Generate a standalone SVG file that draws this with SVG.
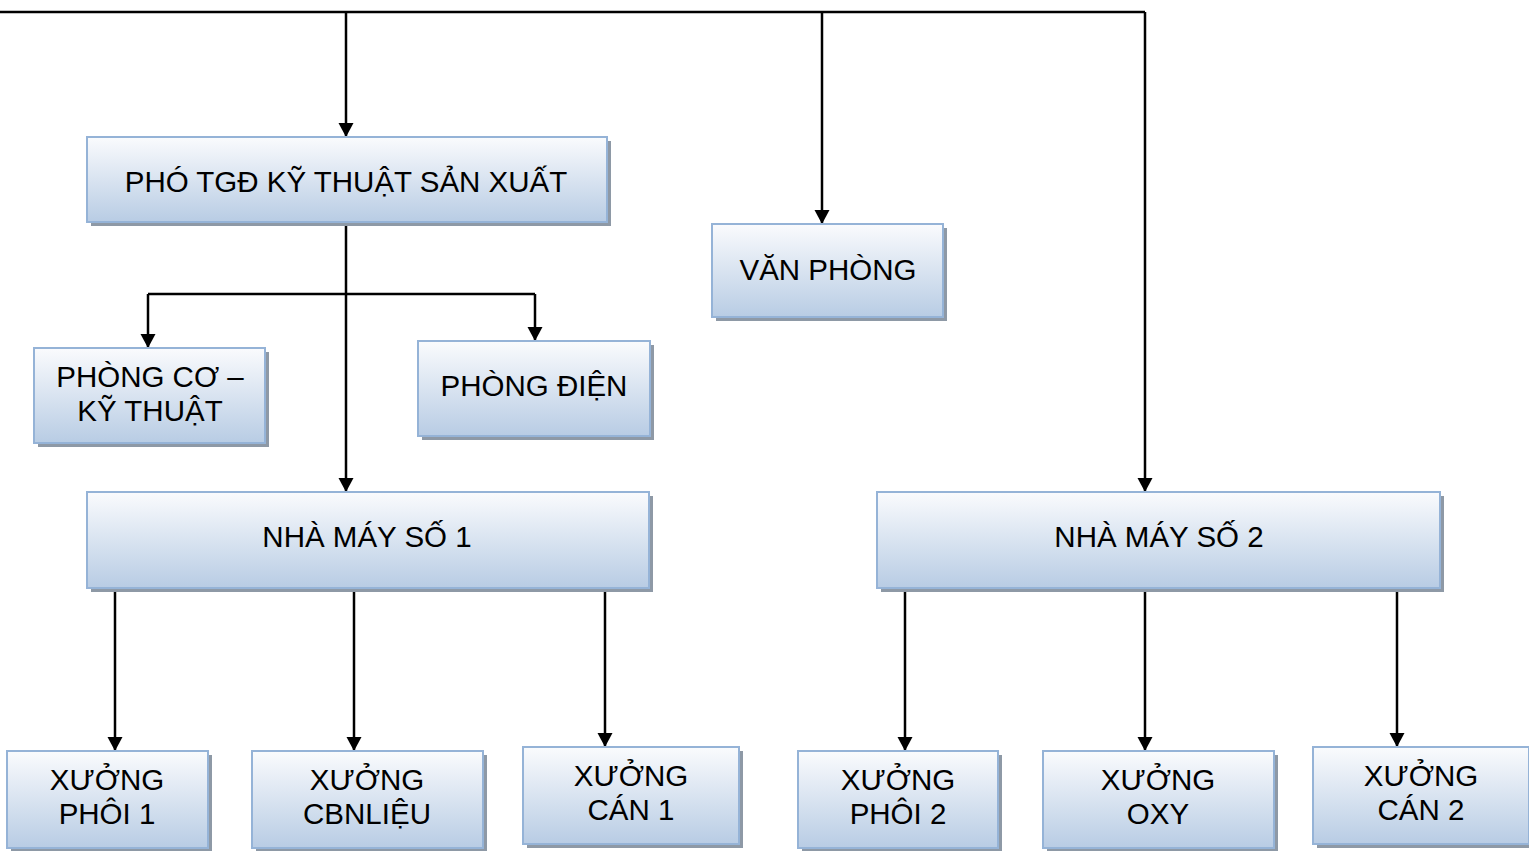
<svg xmlns="http://www.w3.org/2000/svg" width="1529" height="851" viewBox="0 0 1529 851">
<style>
.box{fill:url(#g);stroke:#95b3d7;stroke-width:2}
.sh{fill:#8e99a6}
.t{font-family:"Liberation Sans",Arial,sans-serif;font-size:29.5px;fill:#000;text-anchor:middle}
.c{fill:none;stroke:#000;stroke-width:2.5}
</style>
<defs>
<linearGradient id="g" x1="0" y1="0" x2="0" y2="1">
<stop offset="0" stop-color="#fafbfd"/>
<stop offset="1" stop-color="#b8cce4"/>
</linearGradient>
<marker id="a" markerUnits="userSpaceOnUse" markerWidth="15" markerHeight="16" refX="14" refY="8" orient="auto">
<path d="M0,0.5 L14,8 L0,15.5 z" fill="#000"/>
</marker>
</defs>
<rect width="1529" height="851" fill="#fff"/>
<g id="connectors">
<path class="c" d="M0,12 H1145"/>
<path class="c" d="M346,12 V137" marker-end="url(#a)"/>
<path class="c" d="M822,12 V224" marker-end="url(#a)"/>
<path class="c" d="M1145,12 V492" marker-end="url(#a)"/>
<path class="c" d="M346,224 V492" marker-end="url(#a)"/>
<path class="c" d="M148,294 H535"/>
<path class="c" d="M148,294 V348" marker-end="url(#a)"/>
<path class="c" d="M535,294 V341" marker-end="url(#a)"/>
<path class="c" d="M115,590 V751" marker-end="url(#a)"/>
<path class="c" d="M354,590 V751" marker-end="url(#a)"/>
<path class="c" d="M605,590 V747" marker-end="url(#a)"/>
<path class="c" d="M905,590 V751" marker-end="url(#a)"/>
<path class="c" d="M1145,590 V751" marker-end="url(#a)"/>
<path class="c" d="M1397,590 V747" marker-end="url(#a)"/>
</g>
<g id="pho-tgd">
<rect class="sh" x="91" y="141" width="520" height="85"/>
<rect class="box" x="87" y="137" width="520" height="85"/>
<text class="t" x="346" y="192">PHÓ TGĐ KỸ THUẬT SẢN XUẤT</text>
</g>
<g id="van-phong">
<rect class="sh" x="716" y="228" width="231" height="93"/>
<rect class="box" x="712" y="224" width="231" height="93"/>
<text class="t" x="828" y="280">VĂN PHÒNG</text>
</g>
<g id="phong-co">
<rect class="sh" x="38" y="352" width="231" height="95"/>
<rect class="box" x="34" y="348" width="231" height="95"/>
<text class="t" x="150" y="387">PHÒNG CƠ –</text>
<text class="t" x="150" y="421">KỸ THUẬT</text>
</g>
<g id="phong-dien">
<rect class="sh" x="422" y="345" width="232" height="95"/>
<rect class="box" x="418" y="341" width="232" height="95"/>
<text class="t" x="534" y="396">PHÒNG ĐIỆN</text>
</g>
<g id="nha-may-1">
<rect class="sh" x="91" y="496" width="562" height="96"/>
<rect class="box" x="87" y="492" width="562" height="96"/>
<text class="t" x="367" y="547">NHÀ MÁY SỐ 1</text>
</g>
<g id="nha-may-2">
<rect class="sh" x="881" y="496" width="563" height="96"/>
<rect class="box" x="877" y="492" width="563" height="96"/>
<text class="t" x="1159" y="547">NHÀ MÁY SỐ 2</text>
</g>
<g id="xuong-phoi-1">
<rect class="sh" x="11" y="755" width="201" height="97"/>
<rect class="box" x="7" y="751" width="201" height="97"/>
<text class="t" x="107" y="790">XƯỞNG</text>
<text class="t" x="107" y="824">PHÔI 1</text>
</g>
<g id="xuong-cbnlieu">
<rect class="sh" x="256" y="755" width="231" height="97"/>
<rect class="box" x="252" y="751" width="231" height="97"/>
<text class="t" x="367" y="790">XƯỞNG</text>
<text class="t" x="367" y="824">CBNLIỆU</text>
</g>
<g id="xuong-can-1">
<rect class="sh" x="527" y="751" width="216" height="97"/>
<rect class="box" x="523" y="747" width="216" height="97"/>
<text class="t" x="631" y="786">XƯỞNG</text>
<text class="t" x="631" y="820">CÁN 1</text>
</g>
<g id="xuong-phoi-2">
<rect class="sh" x="802" y="755" width="200" height="97"/>
<rect class="box" x="798" y="751" width="200" height="97"/>
<text class="t" x="898" y="790">XƯỞNG</text>
<text class="t" x="898" y="824">PHÔI 2</text>
</g>
<g id="xuong-oxy">
<rect class="sh" x="1047" y="755" width="231" height="97"/>
<rect class="box" x="1043" y="751" width="231" height="97"/>
<text class="t" x="1158" y="790">XƯỞNG</text>
<text class="t" x="1158" y="824">OXY</text>
</g>
<g id="xuong-can-2">
<rect class="sh" x="1317" y="751" width="216" height="97"/>
<rect class="box" x="1313" y="747" width="216" height="97"/>
<text class="t" x="1421" y="786">XƯỞNG</text>
<text class="t" x="1421" y="820">CÁN 2</text>
</g>
</svg>
